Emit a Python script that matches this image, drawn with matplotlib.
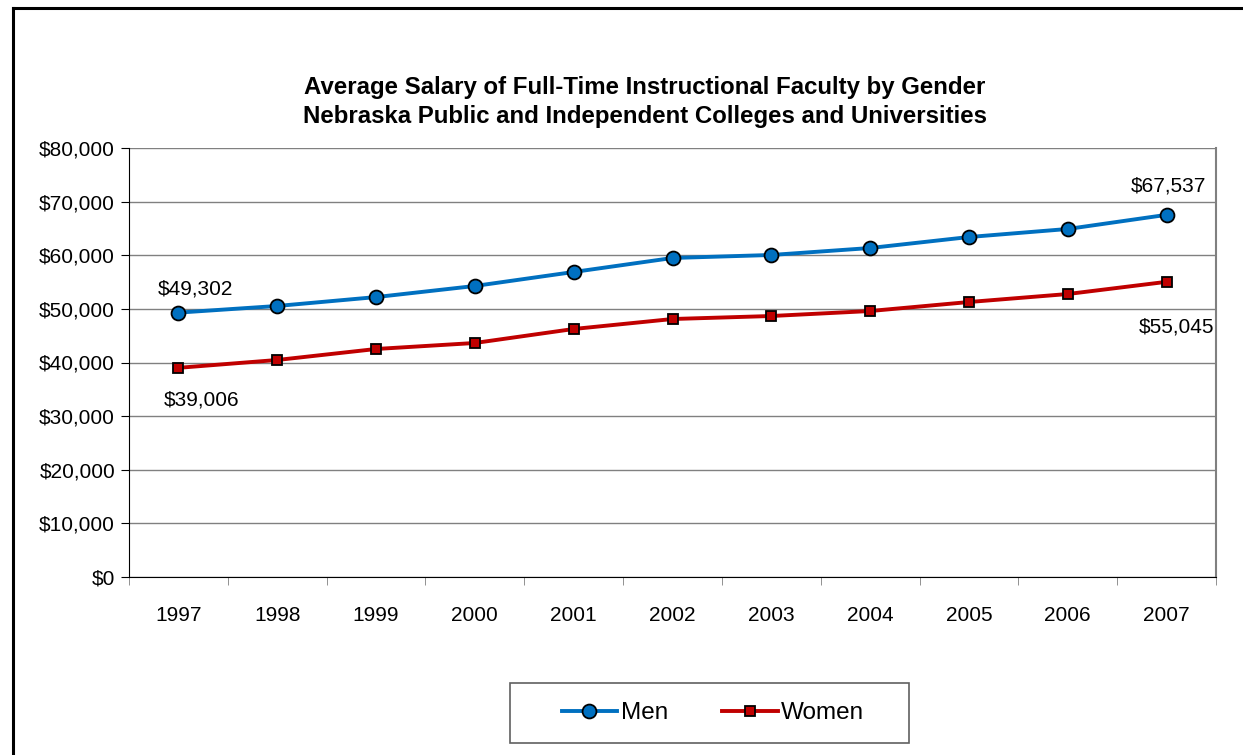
import matplotlib.pyplot as plt
from matplotlib.lines import Line2D
from matplotlib.patches import Rectangle
from matplotlib.ticker import FuncFormatter, FixedLocator

plt.rcParams['font.family'] = ['Liberation Sans', 'DejaVu Sans']

years = ['1997', '1998', '1999', '2000', '2001', '2002', '2003', '2004', '2005', '2006', '2007']
men = [49302, 50540, 52200, 54270, 56880, 59490, 60050, 61350, 63400, 64900, 67537]
women = [39006, 40470, 42520, 43640, 46250, 48110, 48670, 49600, 51280, 52770, 55045]

W, H = 1243, 755
fig = plt.figure(figsize=(W / 100, H / 100), dpi=100)
ax = fig.add_axes([129 / W, 1 - 577 / H, 1087 / W, 429 / H])

x = list(range(len(years)))
ax.plot(x, men, color='#0070C0', lw=2.8, marker='o', ms=10, mfc='#0070C0',
        mec='black', mew=1.3, label='Men', zorder=3)
ax.plot(x, women, color='#C00000', lw=2.8, marker='s', ms=7.5, mfc='#C00000',
        mec='black', mew=1.3, label='Women', zorder=3)

ax.set_xlim(-0.5, len(years) - 0.5)
ax.set_ylim(0, 80000)
ax.set_yticks(range(0, 80001, 10000))
ax.yaxis.set_major_formatter(FuncFormatter(lambda v, p: '${:,.0f}'.format(v)))
ax.set_xticks(x)
ax.set_xticklabels(years)
ax.xaxis.set_minor_locator(FixedLocator([i - 0.5 for i in range(len(years) + 1)]))
ax.tick_params(axis='x', which='major', length=0, pad=21, labelsize=15)
ax.tick_params(axis='x', which='minor', length=6, direction='out', color='#808080')
ax.tick_params(axis='y', length=6, direction='out', labelsize=15, pad=4)
ax.grid(axis='y', color='#808080', lw=1)
ax.set_axisbelow(True)
ax.spines['top'].set_visible(False)
ax.spines['right'].set_color('#808080')
ax.spines['right'].set_linewidth(1.5)
ax.spines['left'].set_color('black')
ax.spines['bottom'].set_color('black')

# data labels on first and last points
ax.annotate('$49,302', (0, men[0]), xytext=(12, 17), textcoords='offset points',
            ha='center', va='center', fontsize=15)
ax.annotate('$39,006', (0, women[0]), xytext=(17, -23), textcoords='offset points',
            ha='center', va='center', fontsize=15)
ax.annotate('$67,537', (10, men[-1]), xytext=(1.5, 21), textcoords='offset points',
            ha='center', va='center', fontsize=15)
ax.annotate('$55,045', (10, women[-1]), xytext=(7, -32.5), textcoords='offset points',
            ha='center', va='center', fontsize=15)

fig.text(645 / W, 1 - 102 / H,
         'Average Salary of Full-Time Instructional Faculty by Gender\n'
         'Nebraska Public and Independent Colleges and Universities',
         ha='center', va='center', fontsize=17.3, fontweight='bold', linespacing=1.38)

# legend box drawn separately so it can be wider than the entries
fig.add_artist(Rectangle((510 / W, 1 - 743 / H), 399 / W, 60 / H, transform=fig.transFigure,
                         fill=False, edgecolor='#606060', lw=1.2))
fig.legend(loc='center', bbox_to_anchor=(713 / W, 1 - 713 / H), ncol=2,
           fontsize=17.5, frameon=False, handlelength=2.3, columnspacing=2.2,
           borderaxespad=0, handletextpad=0.15)

# outer chart border (top and left visible)
fig.add_artist(Line2D([13 / W, 13 / W], [0, 1 - 8 / H], transform=fig.transFigure,
                      color='black', lw=2.2))
fig.add_artist(Line2D([13 / W, 1], [1 - 8 / H, 1 - 8 / H], transform=fig.transFigure,
                      color='black', lw=2.2))

fig.savefig('out.png', dpi=100)
